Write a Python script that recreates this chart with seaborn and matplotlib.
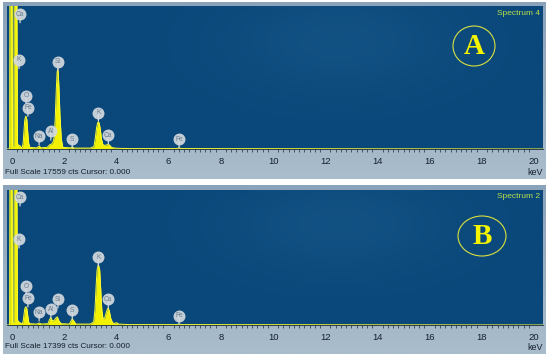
import numpy as np
import pandas as pd
import matplotlib
matplotlib.use("Agg")
import matplotlib.pyplot as plt
import matplotlib.transforms as mtransforms
from matplotlib.patches import Ellipse
import seaborn as sns

# ---------------- data ----------------
energy_a = [-0.2, -0.09, -0.075, 0.0, 0.02, 0.07, 0.09, 0.18, 0.21, 0.26, 0.30, 0.36, 0.40,
            0.43, 0.46, 0.49, 0.53, 0.57, 0.60, 0.64, 0.68, 0.75, 0.95, 1.04, 1.12, 1.35,
            1.45, 1.52, 1.58, 1.62, 1.66, 1.70, 1.73, 1.75, 1.77, 1.80, 1.84, 1.89, 1.95,
            2.25, 2.31, 2.38, 3.0, 3.14, 3.19, 3.24, 3.28, 3.31, 3.34, 3.38, 3.43, 3.48,
            3.55, 3.65, 3.72, 3.82, 4.0, 4.5, 6.3, 6.4, 6.5, 20.5]
counts_a = [0, 0, 26000, 26000, 350, 350, 26000, 26000, 700, 350, 440, 180, 250,
            800, 2200, 3600, 4040, 3600, 2200, 700, 220, 180, 140, 350, 140, 210,
            530, 610, 900, 1500, 4000, 7500, 9400, 9830, 9400, 7500, 4000, 1200, 200,
            140, 260, 110, 110, 300, 1300, 2600, 3200, 3340, 3200, 2500, 1200, 550,
            440, 530, 530, 180, 90, 50, 50, 140, 50, 0]

energy_b = [-0.2, -0.09, -0.075, 0.0, 0.02, 0.07, 0.09, 0.18, 0.21, 0.26, 0.29, 0.36, 0.40,
            0.43, 0.46, 0.49, 0.53, 0.57, 0.60, 0.64, 0.68, 0.95, 1.04, 1.12, 1.38, 1.44,
            1.49, 1.55, 1.62, 1.68, 1.74, 1.80, 1.88, 2.2, 2.26, 2.31, 2.37, 2.45, 3.0,
            3.13, 3.18, 3.22, 3.26, 3.31, 3.36, 3.40, 3.44, 3.49, 3.55, 3.61, 3.66, 3.69,
            3.73, 3.78, 3.85, 3.92, 4.01, 4.08, 4.5, 6.3, 6.4, 6.5, 20.5]
counts_b = [0, 0, 26000, 26000, 350, 350, 26000, 26000, 700, 350, 350, 170, 220,
            500, 1300, 2100, 2350, 2100, 1300, 400, 170, 120, 260, 120, 170, 700,
            960, 520, 600, 900, 1040, 520, 170, 120, 520, 780, 520, 120, 120,
            400, 2000, 4800, 7100, 7830, 7100, 4600, 2000, 750, 900, 1600, 2100, 2160,
            1800, 900, 300, 200, 300, 120, 50, 50, 120, 50, 0]

full_scale = [17559, 17399]
spectrum_names = ["Spectrum 4", "Spectrum 2"]
panel_letters = ["A", "B"]

elements = ["Ca", "K", "O", "Fe", "Na", "Al", "Si", "S", "K", "Ca", "Fe"]
element_kev = [0.31, 0.27, 0.54, 0.61, 1.04, 1.49, 1.76, 2.31, 3.31, 3.69, 6.40]
label_tip_a = [15500, 9880, 5490, 4020, 490, 1100, 9630, 120, 3410, 610, 120]
label_tip_b = [15340, 9920, 3870, 2320, 520, 900, 2190, 770, 7600, 2190, 100]

major_ticks = [0, 2, 4, 6, 8, 10, 12, 14, 16, 18, 20]
tick_labels = ["0", "2", "4", "6", "8", "10", "12", "14", "16", "18", "20"]

# ---------------- figure ----------------
sns.set_theme(style="white")
plt.rcParams["font.family"] = ["Liberation Sans", "DejaVu Sans"]

W, H = 550, 358
fig = plt.figure(figsize=(5.5, 3.58), dpi=100)
fig.patch.set_facecolor("white")

def px_rect(x0, y0, x1, y1):
    return [x0 / W, 1 - y1 / H, (x1 - x0) / W, (y1 - y0) / H]

# grey-blue frames behind each panel (gradient)
frame_cmap = matplotlib.colors.LinearSegmentedColormap.from_list("fr", ["#8aa3ba", "#aabdcc"])
for (fy0, fy1) in [(2, 179), (185, 354)]:
    bax = fig.add_axes(px_rect(3, fy0, 546, fy1), zorder=0)
    grad = np.linspace(0, 1, 100).reshape(-1, 1)
    bax.imshow(grad, aspect="auto", cmap=frame_cmap, extent=[0, 1, 0, 1], origin="upper")
    bax.set_axis_off()

bg_cmap = matplotlib.colors.LinearSegmentedColormap.from_list("bg", ["#0a477a", "#175888"])

panels = [
    dict(rect=px_rect(7, 6, 543, 149), e=energy_a, c=counts_a, tips=label_tip_a, text_y=172),
    dict(rect=px_rect(7, 190, 543, 325), e=energy_b, c=counts_b, tips=label_tip_b, text_y=347),
]

for i, p in enumerate(panels):
    ax = fig.add_axes(p["rect"], zorder=2)
    ax.set_facecolor("#0c4b7d")
    # subtle background shading like the instrument screen
    gx = np.linspace(0, 1, 200)
    gy = np.linspace(0, 1, 60)
    GX, GY = np.meshgrid(gx, gy)
    shade = np.exp(-((GX - 0.62) ** 2) / 0.05 - ((GY - 0.75) ** 2) / 0.15) * 0.6
    ax.imshow(shade, aspect="auto", cmap=bg_cmap, vmin=0, vmax=1, origin="lower",
              extent=[-0.19, 20.34, 0, full_scale[i]], zorder=0)

    df = pd.DataFrame({"keV": p["e"], "cts": p["c"]})
    ax.fill_between(df["keV"], 0, df["cts"], color="#f2f200", lw=0, zorder=2)
    sns.lineplot(data=df, x="keV", y="cts", ax=ax, color="#ffff30", lw=0.7,
                 estimator=None, sort=False, zorder=3)
    ax.set_xlim(-0.19, 20.34)
    ax.set_ylim(0, full_scale[i])
    ax.set_xlabel("")
    ax.set_ylabel("")
    ax.set_yticks([])
    ax.set_xticks(major_ticks)
    ax.set_xticklabels(tick_labels)
    ax.set_xticks(np.arange(0, 20.01, 0.2), minor=True)
    ax.tick_params(axis="x", which="major", direction="out", length=3.5, width=0.6,
                   color="#1b2a3a", labelsize=6.8, labelcolor="#15202c", pad=2)
    ax.tick_params(axis="x", which="minor", direction="out", length=2, width=0.5,
                   color="#1b2a3a", bottom=True)
    for s in ["top", "left", "right"]:
        ax.spines[s].set_visible(False)
    ax.spines["bottom"].set_color("#1b2a3a")
    ax.spines["bottom"].set_linewidth(0.6)

    # element labels: stem + fixed-size circle + symbol
    up = mtransforms.offset_copy(ax.transData, fig=fig, x=0, y=6.2, units="points")
    for el, ke, tip in zip(elements, element_kev, p["tips"]):
        ax.annotate("", xy=(ke, tip), xytext=(0, 6.2), textcoords="offset points",
                    arrowprops=dict(arrowstyle="-", color="#d3d9df", lw=0.9,
                                    shrinkA=0, shrinkB=0), zorder=5)
        ax.plot([ke], [tip], marker="o", markersize=8.6, color="#d3d9df", alpha=0.92,
                markeredgewidth=0, transform=up, zorder=6, clip_on=False)
        ax.text(ke, tip, el, transform=up, ha="center", va="center", fontsize=4.8,
                color="#6a7d8e", zorder=7)

    ax.text(0.995, 0.975, spectrum_names[i], transform=ax.transAxes, ha="right", va="top",
            fontsize=6, color="#b9e24a")

    # circled letter
    if i == 0:
        cx, cy, ew, eh = 474, 46, 42, 40
    else:
        cx, cy, ew, eh = 482, 236, 48, 40
    fig.patches.append(Ellipse((cx / W, 1 - cy / H), ew / W, eh / H,
                               transform=fig.transFigure, fill=False, ec="#d8e040",
                               lw=0.8, zorder=6))
    fig.text(cx / W, 1 - cy / H, panel_letters[i], ha="center", va="center",
             fontsize=21, fontweight="bold", color="#f5f500",
             family=["Liberation Serif", "DejaVu Serif"], zorder=7)

    fig.text(5 / W, 1 - p["text_y"] / H, f"Full Scale {full_scale[i]} cts Cursor: 0.000",
             ha="left", va="center", fontsize=5.9, color="#15202c", zorder=7)
    fig.text(543 / W, 1 - p["text_y"] / H, "keV", ha="right", va="center",
             fontsize=6.4, color="#15202c", zorder=7)

fig.savefig("out.png", dpi=100)
